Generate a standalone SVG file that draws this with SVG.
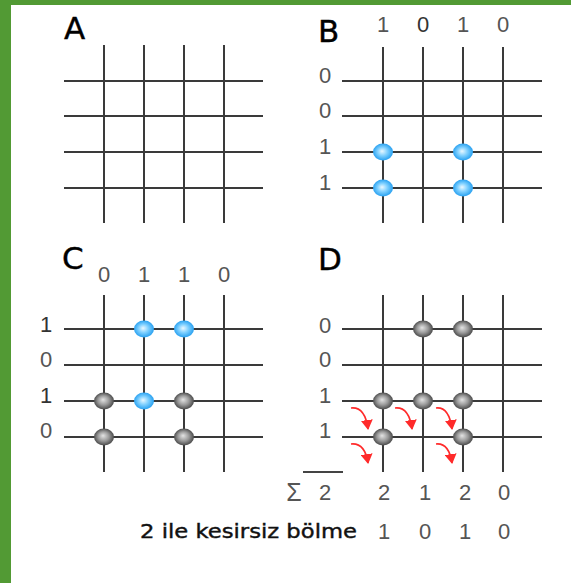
<svg xmlns="http://www.w3.org/2000/svg" width="571" height="583" viewBox="0 0 571 583">
  <defs>
    <radialGradient id="gBlue" cx="50%" cy="50%" r="55%" fx="45%" fy="45%">
      <stop offset="0" stop-color="#eaf8ff"/>
      <stop offset="0.45" stop-color="#7fd0ff"/>
      <stop offset="1" stop-color="#1898ee"/>
    </radialGradient>
    <radialGradient id="gGray" cx="50%" cy="50%" r="55%" fx="45%" fy="42%">
      <stop offset="0" stop-color="#e4e4e4"/>
      <stop offset="0.5" stop-color="#9a9a9a"/>
      <stop offset="1" stop-color="#3a3a3a"/>
    </radialGradient>
    <marker id="redHead" viewBox="0 0 10 12" refX="9" refY="6" markerWidth="10" markerHeight="12" markerUnits="userSpaceOnUse" orient="auto">
      <path d="M0,0 L10,6 L0,12 z" fill="#ff2a2a"/>
    </marker>
  </defs>
  <style>
    .grid line { stroke: #3a3a3a; stroke-width: 2; }
    .blue { fill: url(#gBlue); }
    .gray { fill: url(#gGray); }
    .num { font-family: "Liberation Sans", Arial, sans-serif; font-size: 22px; fill: #555; text-anchor: middle; }
    .dark { fill: #333; }
    .title { font-family: "DejaVu Sans", "Liberation Sans", sans-serif; font-size: 31px; fill: #000; stroke: #000; stroke-width: 0.4; }
    .caption { font-family: "DejaVu Sans", "Liberation Sans", sans-serif; font-size: 19px; fill: #111; stroke: #111; stroke-width: 0.4; }
    .arrow { fill: none; stroke: #ff2a2a; stroke-width: 1.6; marker-end: url(#redHead); }
  </style>

  <!-- page background and green frame -->
  <rect width="571" height="583" fill="#ffffff"/>
  <rect x="0" y="0" width="571" height="5" fill="#529a34"/>
  <rect x="0" y="0" width="11" height="583" fill="#529a34"/>

  <!-- Panel A: empty grid -->
  <g id="panelA">
    <text class="title" x="64" y="39">A</text>
    <g class="grid">
      <line x1="104" y1="45" x2="104" y2="223"/>
      <line x1="144" y1="45" x2="144" y2="223"/>
      <line x1="184" y1="45" x2="184" y2="223"/>
      <line x1="224" y1="45" x2="224" y2="223"/>
      <line x1="64" y1="81" x2="263" y2="81"/>
      <line x1="64" y1="116" x2="263" y2="116"/>
      <line x1="64" y1="152" x2="263" y2="152"/>
      <line x1="64" y1="188" x2="263" y2="188"/>
    </g>
  </g>

  <!-- Panel B: row/column code, blue intersections -->
  <g id="panelB">
    <text class="title" x="318" y="42">B</text>
    <g class="num">
      <text x="383" y="32">1</text>
      <text x="423" y="32" class="dark">0</text>
      <text x="463" y="32">1</text>
      <text x="503" y="32">0</text>
      <text x="325" y="83">0</text>
      <text x="325" y="118">0</text>
      <text x="325" y="154">1</text>
      <text x="325" y="190">1</text>
    </g>
    <g class="grid">
      <line x1="383" y1="47" x2="383" y2="223"/>
      <line x1="423" y1="47" x2="423" y2="223"/>
      <line x1="463" y1="47" x2="463" y2="223"/>
      <line x1="503" y1="47" x2="503" y2="223"/>
      <line x1="342" y1="81" x2="542" y2="81"/>
      <line x1="342" y1="116" x2="542" y2="116"/>
      <line x1="342" y1="152" x2="542" y2="152"/>
      <line x1="342" y1="188" x2="542" y2="188"/>
    </g>
    <g id="nodesB">
      <ellipse id="b31" class="blue" cx="383" cy="152" rx="10" ry="8.5"/>
      <ellipse id="b33" class="blue" cx="463" cy="152" rx="10" ry="8.5"/>
      <ellipse id="b41" class="blue" cx="383" cy="188" rx="10" ry="8.5"/>
      <ellipse id="b43" class="blue" cx="463" cy="188" rx="10" ry="8.5"/>
    </g>
  </g>

  <!-- Panel C: new code, blue and gray intersections -->
  <g id="panelC">
    <text class="title" x="62" y="269">C</text>
    <g class="num">
      <text x="104" y="282">0</text>
      <text x="144" y="282">1</text>
      <text x="184" y="282">1</text>
      <text x="224" y="282">0</text>
      <text x="46" y="332" class="dark">1</text>
      <text x="46" y="367">0</text>
      <text x="46" y="403" class="dark">1</text>
      <text x="46" y="438">0</text>
    </g>
    <g class="grid">
      <line x1="104" y1="295" x2="104" y2="472"/>
      <line x1="144" y1="295" x2="144" y2="472"/>
      <line x1="184" y1="295" x2="184" y2="472"/>
      <line x1="224" y1="295" x2="224" y2="472"/>
      <line x1="64" y1="329" x2="263" y2="329"/>
      <line x1="64" y1="365" x2="263" y2="365"/>
      <line x1="64" y1="401" x2="263" y2="401"/>
      <line x1="64" y1="437" x2="263" y2="437"/>
    </g>
    <g id="nodesC">
      <ellipse id="c12" class="blue" cx="144" cy="329" rx="10" ry="8.5"/>
      <ellipse id="c13" class="blue" cx="184" cy="329" rx="10" ry="8.5"/>
      <ellipse id="c31" class="gray" cx="104" cy="401" rx="10" ry="8.5"/>
      <ellipse id="c32" class="blue" cx="144" cy="401" rx="10" ry="8.5"/>
      <ellipse id="c33" class="gray" cx="184" cy="401" rx="10" ry="8.5"/>
      <ellipse id="c41" class="gray" cx="104" cy="437" rx="10" ry="8.5"/>
      <ellipse id="c43" class="gray" cx="184" cy="437" rx="10" ry="8.5"/>
    </g>
  </g>

  <!-- Panel D: shifted nodes, column sums and halving -->
  <g id="panelD">
    <text class="title" x="318" y="270">D</text>
    <g class="num">
      <text x="325" y="333">0</text>
      <text x="325" y="367">0</text>
      <text x="325" y="403">1</text>
      <text x="325" y="438">1</text>
    </g>
    <g class="grid">
      <line x1="383" y1="295" x2="383" y2="472"/>
      <line x1="423" y1="295" x2="423" y2="472"/>
      <line x1="463" y1="295" x2="463" y2="472"/>
      <line x1="503" y1="295" x2="503" y2="472"/>
      <line x1="342" y1="329" x2="542" y2="329"/>
      <line x1="342" y1="365" x2="542" y2="365"/>
      <line x1="342" y1="401" x2="542" y2="401"/>
      <line x1="342" y1="437" x2="542" y2="437"/>
    </g>
    <g id="nodesD">
      <ellipse id="d12" class="gray" cx="423" cy="329" rx="10" ry="8.5"/>
      <ellipse id="d13" class="gray" cx="463" cy="329" rx="10" ry="8.5"/>
      <ellipse id="d31" class="gray" cx="383" cy="401" rx="10" ry="8.5"/>
      <ellipse id="d32" class="gray" cx="423" cy="401" rx="10" ry="8.5"/>
      <ellipse id="d33" class="gray" cx="463" cy="401" rx="10" ry="8.5"/>
      <ellipse id="d41" class="gray" cx="383" cy="437" rx="10" ry="8.5"/>
      <ellipse id="d43" class="gray" cx="463" cy="437" rx="10" ry="8.5"/>
    </g>
    <!-- curved shift arrows -->
    <g id="connectors">
      <path class="arrow" d="M351,408 C360,407 366,414 368,429"/>
      <path class="arrow" d="M395,408 C404,407 410,414 412,429"/>
      <path class="arrow" d="M436,408 C445,407 450,414 452,429"/>
      <path class="arrow" d="M351,444 C360,443 366,450 368,463"/>
      <path class="arrow" d="M436,444 C445,443 450,450 452,463"/>
    </g>
    <!-- sums -->
    <line x1="303" y1="472" x2="343" y2="472" stroke="#444" stroke-width="2"/>
    <g class="num">
      <text x="294" y="501" font-size="25">Σ</text>
      <text x="325" y="500">2</text>
      <text x="384" y="500">2</text>
      <text x="425" y="500">1</text>
      <text x="465" y="500">2</text>
      <text x="504" y="500">0</text>
      <text x="384" y="539">1</text>
      <text x="425" y="539">0</text>
      <text x="465" y="539">1</text>
      <text x="504" y="539">0</text>
    </g>
    <text class="caption" x="140" y="538" textLength="217" lengthAdjust="spacingAndGlyphs">2 ile kesirsiz bölme</text>
  </g>
</svg>
